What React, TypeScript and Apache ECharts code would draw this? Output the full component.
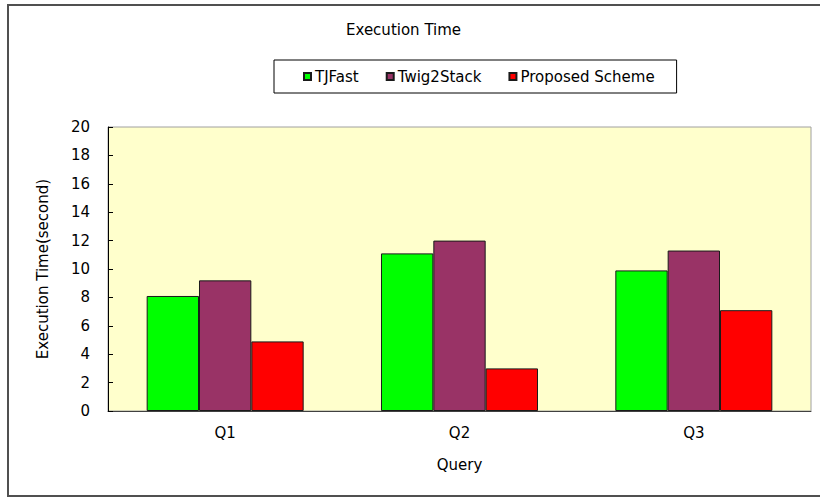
import React, { useEffect, useRef } from "react";
import * as echarts from "echarts";

const categories = ["Q1", "Q2", "Q3"];
const seriesNames = ["TJFast", "Twig2Stack", "Proposed Scheme"];
const tjFast = [8.1, 11.1, 9.9];
const twig2Stack = [9.2, 12.0, 11.3];
const proposed = [4.9, 3.0, 7.1];
const colors = ["#00FF00", "#993366", "#FF0000"];

const FONT = "DejaVu Sans";
const FS = 15;

export default function App() {
  const ref = useRef<HTMLDivElement>(null);
  useEffect(() => {
    if (!ref.current) return;
    const chart = echarts.init(ref.current, undefined, { renderer: "svg" });
    const values = [tjFast, twig2Stack, proposed];
    chart.setOption({
      animation: false,
      backgroundColor: "#FFFFFF",
      textStyle: { fontFamily: FONT },
      title: {
        text: "Execution Time",
        left: 346,
        top: 22,
        padding: 0,
        textStyle: { fontFamily: FONT, fontSize: FS, fontWeight: "normal", color: "#000" },
      },
      legend: {
        data: seriesNames,
        left: 274,
        top: 60,
        padding: [9, 22, 9, 29],
        borderColor: "#000",
        borderWidth: 1,
        itemWidth: 7,
        itemHeight: 7,
        itemGap: 27,
        icon: "rect",
        textStyle: { fontFamily: FONT, fontSize: FS, color: "#000", padding: [0, 0, 0, -1] },
      },
      grid: {
        left: 108,
        right: 9,
        top: 127,
        bottom: 88,
        show: true,
        backgroundColor: "#FFFFCC",
        borderColor: "#A0A0A0",
        borderWidth: 1,
      },
      xAxis: {
        type: "category",
        data: categories,
        name: "Query",
        nameLocation: "middle",
        nameGap: 46,
        nameTextStyle: { fontFamily: FONT, fontSize: FS, color: "#000" },
        axisLine: { lineStyle: { color: "#404040", width: 1 } },
        axisTick: { show: false },
        axisLabel: { fontFamily: FONT, fontSize: FS, color: "#000", margin: 14 },
      },
      yAxis: {
        type: "value",
        min: 0,
        max: 20,
        interval: 2,
        name: "Execution Time(second)",
        nameLocation: "middle",
        nameGap: 58,
        nameTextStyle: { fontFamily: FONT, fontSize: FS, color: "#000" },
        axisLine: { show: true, lineStyle: { color: "#000", width: 1 } },
        axisTick: { show: true, inside: true, length: 5, lineStyle: { color: "#000" } },
        axisLabel: { fontFamily: FONT, fontSize: FS, color: "#000", margin: 18 },
        splitLine: { show: false },
      },
      series: seriesNames.map((name, i) => ({
        name,
        type: "bar",
        data: values[i],
        barGap: "0%",
        barCategoryGap: "33%",
        itemStyle: { color: colors[i], borderColor: "#1a1a1a", borderWidth: 1 },
      })),
      graphic: [
        {
          type: "rect",
          shape: { x: 8, y: 5, width: 840, height: 491 },
          style: { fill: "none", stroke: "#505050", lineWidth: 2 },
          silent: true,
        },
      ],
    });
    return () => chart.dispose();
  }, []);
  return (
    <div
      ref={ref}
      style={{ position: "absolute", left: 0, top: 0, width: 820, height: 499 }}
    />
  );
}
